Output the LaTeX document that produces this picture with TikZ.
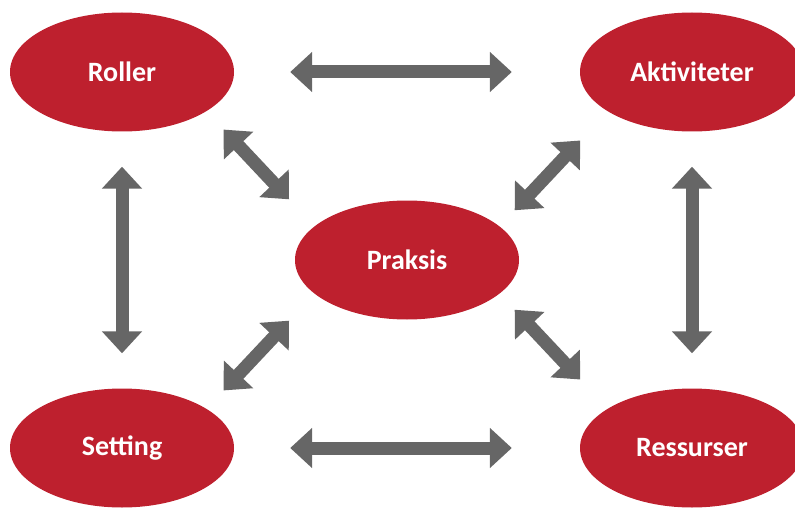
\documentclass[tikz,border=0pt]{standalone}
\usepackage{fontspec}
\setmainfont{Carlito}
\usetikzlibrary{arrows.meta,shapes.geometric}
\definecolor{praksisred}{RGB}{190,32,46}
\definecolor{pilgray}{RGB}{102,102,102}
\begin{document}
\begin{tikzpicture}[x=1pt,y=-1pt]
					\tikzstyle{felt}=[ellipse,fill=praksisred,text=white,font=\fontsize{28}{30}\selectfont\bfseries,minimum width=224pt,minimum height=119pt,inner sep=0pt]
					\tikzstyle{pil}=[draw=pilgray,line width=13pt,{Triangle[width=39pt,length=22pt]}-{Triangle[width=39pt,length=22pt]}]
					\useasboundingbox (0,0) rectangle (795,508);
					\node[felt] (roller) at (122,72) {Roller};
					\node[felt] (aktiv) at (692,72) {Aktiviteter};
					\node[felt] (praksis) at (407,260) {Praksis};
					\node[felt] (setting) at (122,448) {Setting};
					\node[felt] (ressurser) at (692,448) {Ressurser};
					\draw[pil,shorten <=56pt,shorten >=68pt] (roller.east) -- (aktiv.west);
					\draw[pil,shorten <=56pt,shorten >=68pt] (setting.east) -- (ressurser.west);
					\draw[pil,shorten <=35pt,shorten >=35pt] (roller.south) -- (setting.north);
					\draw[pil,shorten <=35pt,shorten >=35pt] (aktiv.south) -- (ressurser.north);
					\draw[pil,shorten <=25pt,shorten >=37pt] (roller.-25) -- (praksis.160);
					\draw[pil,shorten <=40pt,shorten >=22pt] (aktiv.205) -- (praksis.20);
					\draw[pil,shorten <=25pt,shorten >=37pt] (setting.25) -- (praksis.200);
					\draw[pil,shorten <=40pt,shorten >=22pt] (ressurser.155) -- (praksis.-20);
					\end{tikzpicture}
\end{document}
